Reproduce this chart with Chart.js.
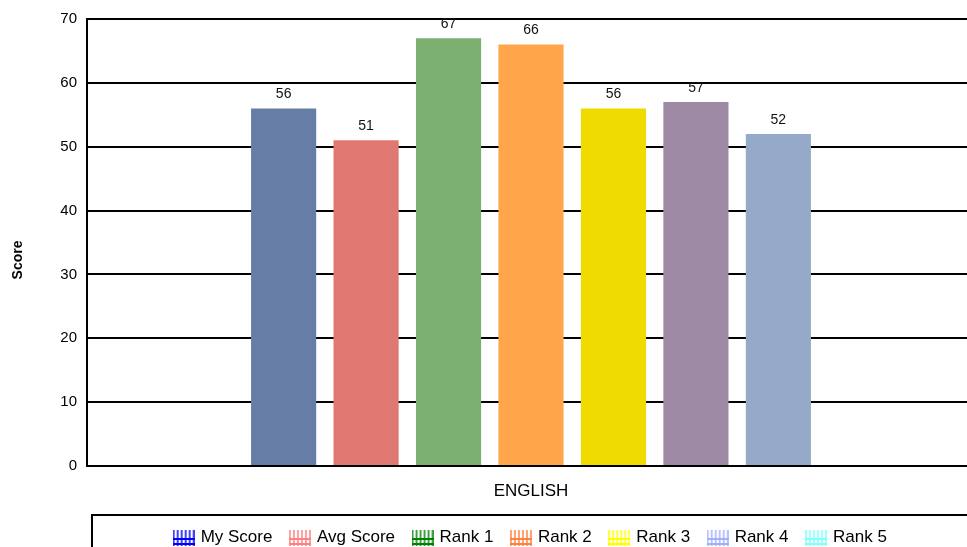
<!DOCTYPE html>
<html>
<head>
<meta charset="utf-8">
<script src="https://cdn.jsdelivr.net/npm/chart.js@4.4.0/dist/chart.umd.min.js"></script>
<style>
    html, body { margin: 0; padding: 0; background: #fff; overflow: hidden; }
    #wrap { position: relative; width: 975px; height: 556px; }
</style>
</head>
<body>
<div id="wrap"><canvas id="score-chart"></canvas></div>
<script>
// 数据
const categories = ['ENGLISH'];
const seriesNames = ['My Score', 'Avg Score', 'Rank 1', 'Rank 2', 'Rank 3', 'Rank 4', 'Rank 5'];
const seriesValues = [56, 51, 67, 66, 56, 57, 52];
const barColors = ['#667ea6', '#e07872', '#7bb071', '#ffa64a', '#f0db00', '#9e8aa4', '#95aac8'];
const legendColors = ['#0000ff', '#ff8080', '#008000', '#ff8040', '#ffff00', '#a0b0ff', '#80ffff'];
const yTicks = [0, 10, 20, 30, 40, 50, 60, 70];

// 图例的网格小图标
function makeHatch(color) {
    const c = document.createElement('canvas');
    c.width = 22;
    c.height = 17;
    const g = c.getContext('2d');
    g.strokeStyle = color;
    g.lineWidth = 1.5;
    for (let x = 1; x < 22; x += 4) {
        g.beginPath();
        g.moveTo(x, 1);
        g.lineTo(x, 17);
        g.stroke();
    }
    g.lineWidth = 2;
    g.beginPath();
    g.moveTo(0, 10);
    g.lineTo(22, 10);
    g.moveTo(0, 15);
    g.lineTo(22, 15);
    g.stroke();
    return c;
}
const hatches = legendColors.map(makeHatch);

// 柱顶数值 + 图例边框 + y轴标题
const extrasPlugin = {
    id: 'extras',
    afterDatasetsDraw(chart) {
        const ctx = chart.ctx;
        ctx.save();
        ctx.fillStyle = '#111';
        ctx.font = '14px "Liberation Sans", Arial, sans-serif';
        ctx.textAlign = 'center';
        ctx.textBaseline = 'bottom';
        chart.data.datasets.forEach((ds, i) => {
            const bar = chart.getDatasetMeta(i).data[0];
            ctx.fillText(String(ds.data[0]), bar.x, bar.y - 7);
        });
        ctx.restore();
    },
    afterDraw(chart) {
        const ctx = chart.ctx;
        const lg = chart.legend;
        ctx.save();
        ctx.strokeStyle = '#000';
        ctx.lineWidth = 2;
        ctx.strokeRect(92, lg.top + 5, chart.width, lg.height + 20);
        ctx.translate(18, 260);
        ctx.rotate(-Math.PI / 2);
        ctx.fillStyle = '#000';
        ctx.font = 'bold 14px "Liberation Sans", Arial, sans-serif';
        ctx.textAlign = 'center';
        ctx.textBaseline = 'middle';
        ctx.fillText('Score', 0, 0);
        ctx.restore();
    }
};

new Chart(document.getElementById('score-chart'), {
    type: 'bar',
    data: {
        labels: categories,
        datasets: seriesNames.map((name, i) => ({
            label: name,
            data: [seriesValues[i]],
            backgroundColor: barColors[i],
            categoryPercentage: 0.65,
            barPercentage: 0.79
        }))
    },
    options: {
        responsive: true,
        maintainAspectRatio: false,
        animation: false,
        layout: { padding: { top: 19, right: 0, left: 0, bottom: 0 } },
        plugins: {
            tooltip: { enabled: false },
            legend: {
                position: 'bottom',
                fullSize: false,
                labels: {
                    usePointStyle: true,
                    color: '#000',
                    font: { size: 17, family: '"Liberation Sans", Arial, sans-serif' },
                    padding: 19,
                    generateLabels(chart) {
                        return chart.data.datasets.map((ds, i) => ({
                            text: ds.label,
                            pointStyle: hatches[i],
                            fillStyle: legendColors[i],
                            strokeStyle: legendColors[i],
                            lineWidth: 0,
                            hidden: false,
                            datasetIndex: i,
                            fontColor: '#000'
                        }));
                    }
                }
            }
        },
        scales: {
            x: {
                afterFit(s) { s.height = 44; },
                grid: { display: false },
                border: { color: '#000', width: 2 },
                ticks: {
                    color: '#000',
                    padding: 7,
                    font: { size: 17, family: '"Liberation Sans", Arial, sans-serif' }
                }
            },
            y: {
                min: 0,
                max: 70,
                afterFit(s) { s.width = 87; },
                afterBuildTicks(s) { s.ticks = yTicks.map(v => ({ value: v })); },
                grid: { color: '#000', lineWidth: 2, drawTicks: false },
                border: { color: '#000', width: 2 },
                ticks: {
                    color: '#000',
                    padding: 10,
                    font: { size: 15, family: '"Liberation Sans", Arial, sans-serif' }
                }
            }
        }
    },
    plugins: [extrasPlugin]
});
</script>
</body>
</html>
